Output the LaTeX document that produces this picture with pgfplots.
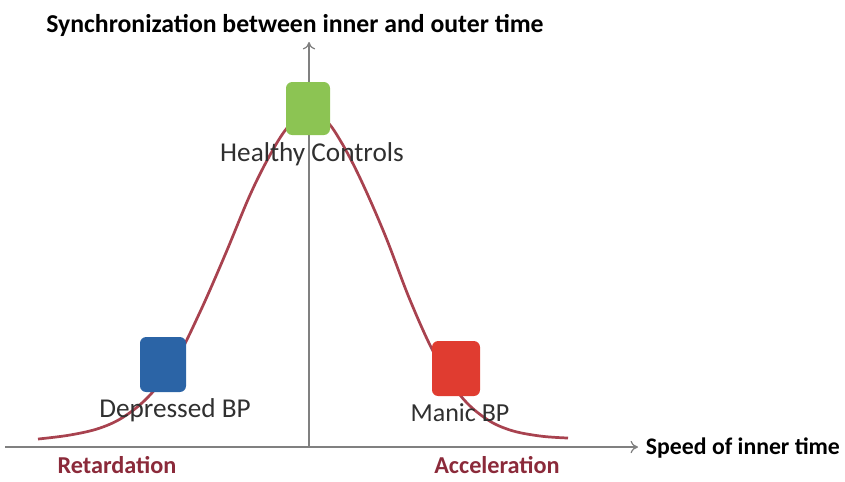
\documentclass[border=0pt]{standalone}
\usepackage{pgfplots}
\pgfplotsset{compat=1.18}
\usetikzlibrary{arrows.meta}
\usepackage{fontspec}
\setmainfont{Carlito}
\definecolor{curvec}{HTML}{A8424F}
\definecolor{darkred}{HTML}{8B2A3A}
\definecolor{axisg}{HTML}{808080}
\definecolor{gbox}{HTML}{8CC453}
\definecolor{bbox}{HTML}{2B64A6}
\definecolor{rbox}{HTML}{E03C30}
\definecolor{txt}{HTML}{303030}
\begin{document}
\begin{tikzpicture}
\begin{axis}[
  width=12cm, height=6.746cm, scale only axis,
  xmin=-309, xmax=536, ymin=-28, ymax=447,
  hide axis, clip=false,
]
% bounding
\addplot[draw=none] coordinates {(-309,-28) (536,447)};
% axes
\addplot[axisg, line width=0.5pt, -{To[length=3pt,width=5pt]}] coordinates {(-304,0) (329,0)};
\addplot[axisg, line width=0.5pt, -{To[length=3pt,width=5pt]}] coordinates {(0,0) (0,405)};
% curve
\addplot[curvec, line width=1.1pt, smooth, tension=0.6] coordinates {
(-271,8) (-239,12) (-209,19) (-184,31) (-159,52) (-134,85) (-109,135)
(-84,192) (-59,252) (-39,292) (-22,319) (-4,335) (16,327) (31,307)
(51,269) (76,212) (101,147) (126,92) (151,52) (176,29) (201,17)
(231,11) (259,9)};
% boxes
\addplot[fill=gbox, draw=none, rounded corners=2.5pt] coordinates {(-23,312) (21,312) (21,365) (-23,365)} -- cycle;
\addplot[fill=bbox, draw=none, rounded corners=2.5pt] coordinates {(-169,55) (-123,55) (-123,110) (-169,110)} -- cycle;
\addplot[fill=rbox, draw=none, rounded corners=2.5pt] coordinates {(123,51) (171,51) (171,106) (123,106)} -- cycle;
% texts
\node[font=\bfseries\fontsize{10.4}{12}\selectfont, text=black] at (axis cs:-14,422) {Synchronization between inner and outer time};
\node[font=\fontsize{11}{13}\selectfont, text=txt] at (axis cs:3,293) {Healthy Controls};
\node[font=\fontsize{11}{13}\selectfont, text=txt] at (axis cs:-134,37) {Depressed BP};
\node[font=\fontsize{10.5}{13}\selectfont, text=txt] at (axis cs:151,34) {Manic BP};
\node[font=\bfseries\fontsize{9.6}{11}\selectfont, text=black, anchor=west, inner sep=1pt] at (axis cs:334,-1) {Speed of inner time};
\node[font=\bfseries\fontsize{9.8}{11}\selectfont, text=darkred] at (axis cs:-192,-18) {Retardation};
\node[font=\bfseries\fontsize{9.8}{11}\selectfont, text=darkred] at (axis cs:188,-18) {Acceleration};
\end{axis}
\end{tikzpicture}
\end{document}
